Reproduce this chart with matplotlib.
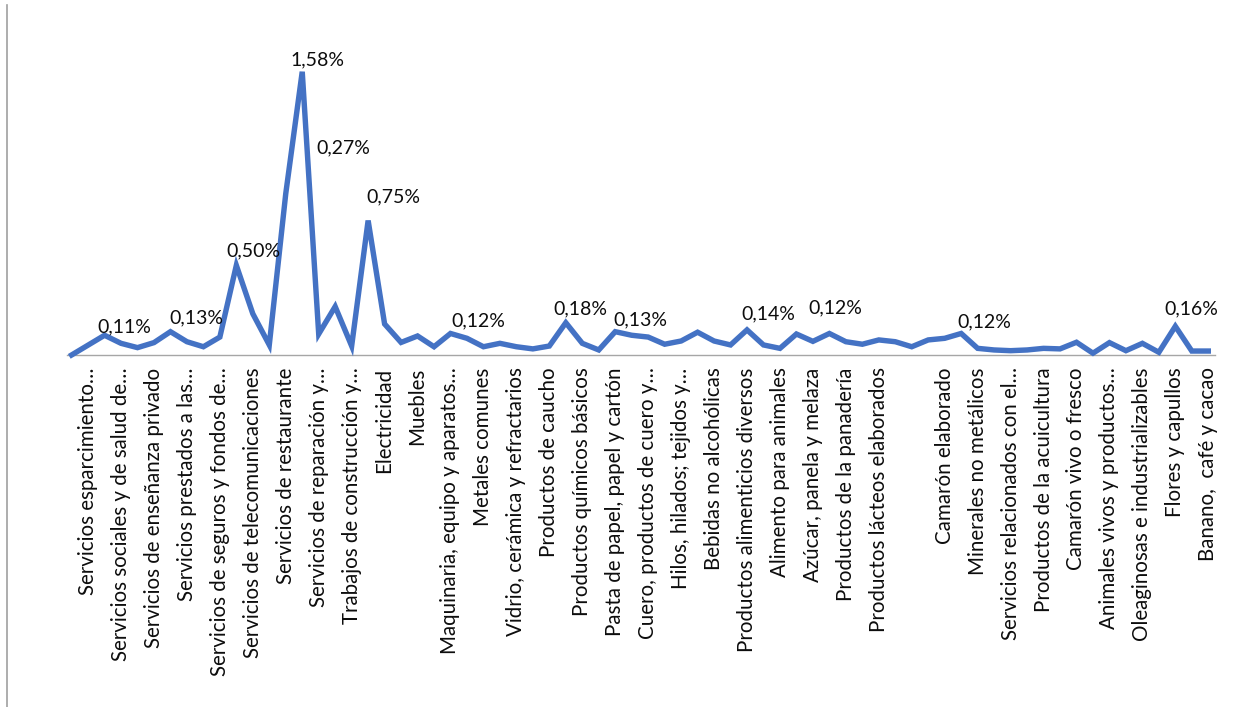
import numpy as np
import matplotlib
matplotlib.use("Agg")
import matplotlib.pyplot as plt
from matplotlib.lines import Line2D

plt.rcParams["font.family"] = ["Lato", "DejaVu Sans"]

# Participación (%) por producto, una serie de 70 categorías
values = [
    0.0, 0.055, 0.11, 0.065, 0.041, 0.069, 0.13, 0.074, 0.046, 0.10,
    0.50, 0.23, 0.056, 0.90, 1.58, 0.117, 0.27, 0.05, 0.75, 0.173,
    0.07, 0.106, 0.046, 0.12, 0.093, 0.046, 0.065, 0.046, 0.034, 0.05,
    0.18, 0.065, 0.028, 0.13, 0.11, 0.10, 0.06, 0.078, 0.127, 0.078,
    0.056, 0.14, 0.056, 0.037, 0.117, 0.076, 0.12, 0.074, 0.06, 0.084,
    0.074, 0.046, 0.084, 0.093, 0.12, 0.037, 0.028, 0.024, 0.028, 0.037,
    0.034, 0.071, 0.01, 0.069, 0.024, 0.065, 0.015, 0.16, 0.022, 0.022,
]

# Etiquetas visibles (una de cada dos categorías)
tick_labels = [
    "Servicios esparcimiento…",
    "Servicios sociales y de salud de…",
    "Servicios de enseñanza privado",
    "Servicios prestados a las…",
    "Servicios de seguros y fondos de…",
    "Servicios de telecomunicaciones",
    "Servicios de restaurante",
    "Servicios de reparación y…",
    "Trabajos de construcción y…",
    "Electricidad",
    "Muebles",
    "Maquinaria, equipo y aparatos…",
    "Metales comunes",
    "Vidrio, cerámica y refractarios",
    "Productos de caucho",
    "Productos químicos básicos",
    "Pasta de papel, papel y cartón",
    "Cuero, productos de cuero y…",
    "Hilos, hilados; tejidos y…",
    "Bebidas no alcohólicas",
    "Productos alimenticios diversos",
    "Alimento para animales",
    "Azúcar, panela y melaza",
    "Productos de la panadería",
    "Productos lácteos elaborados",
    "",
    "Camarón elaborado",
    "Minerales no metálicos",
    "Servicios relacionados con el…",
    "Productos de la acuicultura",
    "Camarón vivo o fresco",
    "Animales vivos y productos…",
    "Oleaginosas e industrializables",
    "Flores y capullos",
    "Banano,  café y cacao",
]

# Puntos con etiqueta de dato
labeled_idx = [2, 6, 10, 14, 16, 18, 23, 30, 33, 41, 46, 54, 67]
# desplazamiento de cada etiqueta (píxeles, x derecha / y arriba)
label_offsets = [(20, 8), (26, 14), (17, 14), (15, 12), (8, 159), (25, 24),
                 (28, 13), (15, 14), (25, 12), (21, 16), (6, 26), (23, 12),
                 (16, 17)]

x = np.arange(len(values))

fig = plt.figure(figsize=(12.53, 7.07), dpi=100)
ax = fig.add_axes([0.0532, 0.4979, 0.9165, 0.4184])

ax.plot(x, values, color="#4472C4", lw=3.9, solid_joinstyle="miter",
        clip_on=False, zorder=3)

px = 72 / fig.dpi
for i, (dx, dy) in zip(labeled_idx, label_offsets):
    ax.annotate(f"{values[i]:.2f}%".replace(".", ","), (x[i], values[i]),
                xytext=(dx * px, dy * px), textcoords="offset points",
                ha="center", va="center", fontsize=14, color="#0d0d0d")

ax.set_xlim(-0.30, 69.41)
ax.set_ylim(0, 1.65)

ax.set_xticks(x[1::2])
ax.set_xticklabels(tick_labels, rotation=90, fontsize=14.8, color="#0d0d0d")
ax.tick_params(axis="x", length=0, pad=9)
ax.set_yticks([])

for side in ["top", "right", "left"]:
    ax.spines[side].set_visible(False)
ax.spines["bottom"].set_color("#A6A6A6")
ax.spines["bottom"].set_linewidth(1.0)

# borde izquierdo del área del gráfico
fig.add_artist(Line2D([6.5 / 1253, 6.5 / 1253], [0, 1 - 5 / 707],
                      transform=fig.transFigure, color="#A0A0A0", lw=1.2))

fig.savefig("out.png", dpi=100)
